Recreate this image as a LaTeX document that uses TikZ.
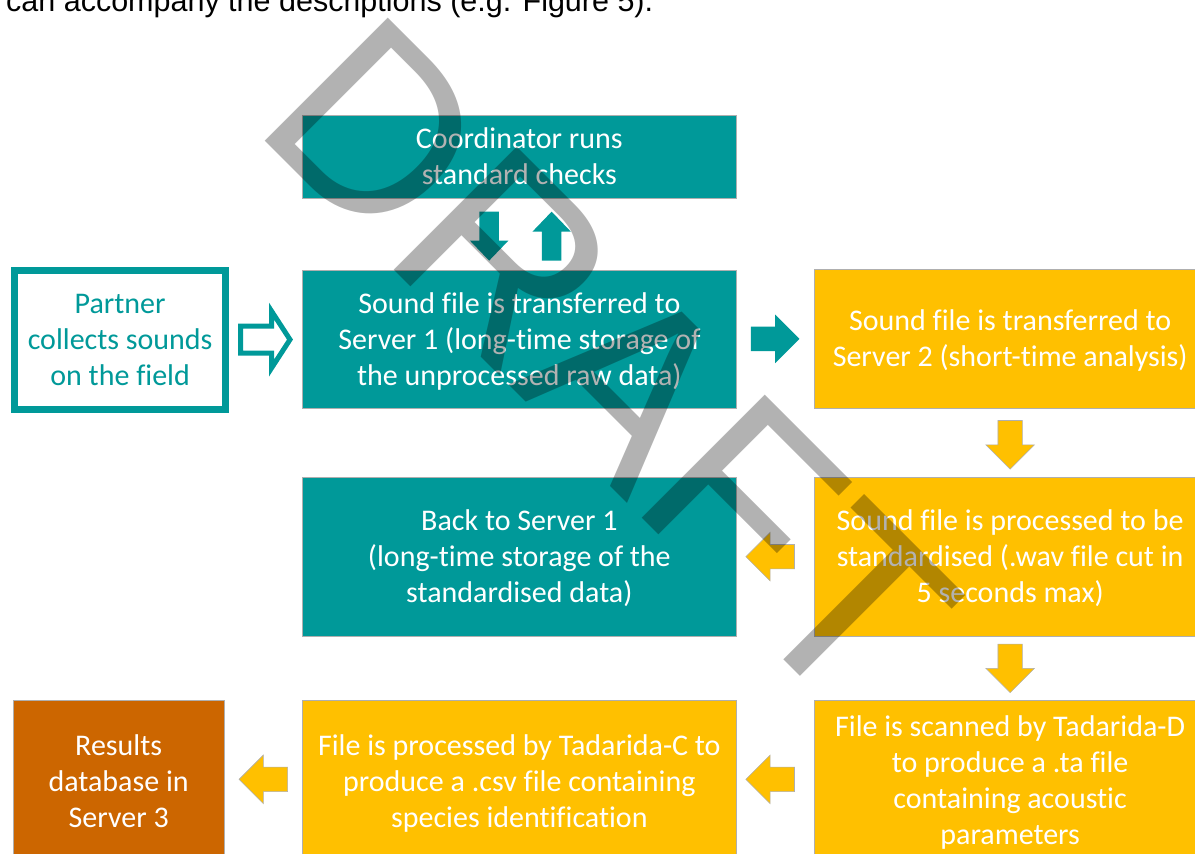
\documentclass[tikz,border=0pt]{standalone}
\usepackage{fontspec}
\setmainfont{Carlito}[Ligatures={TeX,NoCommon}]
\newfontfamily\capfont{Liberation Sans}
\usetikzlibrary{calc}

\definecolor{tealc}{RGB}{0,153,153}
\definecolor{amber}{RGB}{255,192,0}
\definecolor{rust}{RGB}{204,102,0}
\definecolor{edge}{RGB}{175,175,175}

\tikzset{
  box/.style={rectangle, inner sep=0pt, outer sep=0pt, draw=edge, line width=0.6pt},
  tealbox/.style={box, fill=tealc},
  amberbox/.style={box, fill=amber},
  rustbox/.style={box, fill=rust},
  % multi-line text, anchored on the baseline of its last line
  boxtext/.style={anchor=base, align=center, inner sep=0pt, text=white,
                  font=\fontsize{30}{36}\selectfont},
  % wide block arrow, pointing right, centred on its position
  bigarrow/.pic={\path[pic actions] (-24.3,-12.2) -- (0,-12.2) -- (0,-24.3) -- (24.3,0)
                 -- (0,24.3) -- (0,12.2) -- (-24.3,12.2) -- cycle;},
  % slender block arrow, pointing right
  slimarrow/.pic={\path[pic actions] (-24.5,-9.7) -- (4.5,-9.7) -- (4.5,-19.2) -- (24.5,0)
                 -- (4.5,19.2) -- (4.5,9.7) -- (-24.5,9.7) -- cycle;},
  % outlined block arrow, pointing right
  hollowarrow/.pic={\path[pic actions] (-25.5,-13.5) -- (5.5,-13.5) -- (5.5,-28.5) -- (24,0)
                 -- (5.5,28.5) -- (5.5,13.5) -- (-25.5,13.5) -- cycle;},
  tealarrow/.style={fill=tealc},
  amberarrow/.style={fill=amber, draw=edge, line width=0.6pt},
}

\begin{document}
\begin{tikzpicture}[x=1pt, y=-1pt]
\useasboundingbox (0,0) rectangle (1195,854);
\clip (0,0) rectangle (1195,854);

% caption line of the surrounding text
\node[anchor=base west, inner sep=0pt, font=\capfont\fontsize{30.5}{36}\selectfont] (captionline)
  at (6,11) {can accompany the descriptions (e.g. Figure 5).};

% boxes
\node[tealbox, minimum width=433.3pt, minimum height=82.6pt]  (coord)   at (519.35,157)    {};
\node[tealbox, minimum width=433.3pt, minimum height=138.3pt] (srv1)    at (519.35,339.15) {};
\node[rectangle, draw=tealc, fill=white, line width=7pt, inner sep=0pt,
      minimum width=211.3pt, minimum height=138.4pt]          (partner) at (120.15,340)    {};
\node[amberbox, minimum width=391.7pt, minimum height=139.3pt] (srv2)   at (1010.15,338.65) {};
\node[tealbox, minimum width=433.3pt, minimum height=158.7pt] (back)    at (519.35,556.65) {};
\node[amberbox, minimum width=391.7pt, minimum height=158.7pt] (proc)   at (1010.15,556.65) {};
\node[amberbox, minimum width=391.7pt, minimum height=161.3pt] (scan)   at (1010.15,781.35) {};
\node[amberbox, minimum width=433.3pt, minimum height=161.3pt] (filec)  at (519.35,781.35) {};
\node[rustbox, minimum width=210.7pt, minimum height=161.3pt]  (results) at (118.65,781.35) {};

% box texts
\node[boxtext] (coordT)   at (519.35,184.3) {Coordinator runs\\standard checks};
\node[boxtext] (srv1T)    at (519.35,385.3) {Sound file is transferred to\\Server 1 (long-time storage of\\the unprocessed raw data)};
\node[boxtext, text=tealc] (partnerT) at (120.15,385.3) {Partner\\collects sounds\\on the field};
\node[boxtext] (srv2T)    at (1010.15,366.7) {Sound file is transferred to\\Server 2 (short-time analysis)};
\node[boxtext] (backT)    at (519.35,602.7) {Back to Server 1\\(long-time storage of the\\standardised data)};
\node[boxtext] (procT)    at (1010.15,602.7) {Sound file is processed to be\\standardised (.wav file cut in\\5 seconds max)};
\node[boxtext] (scanT)    at (1010.15,844) {File is scanned by Tadarida-D\\to produce a .ta file\\containing acoustic\\parameters};
\node[boxtext] (filecT)   at (519.35,827.3) {File is processed by Tadarida-C to\\produce a .csv file containing\\species identification};
\node[boxtext] (resultsT) at (118.65,827.3) {Results\\database in\\Server 3};

% flow arrows
\pic[draw=tealc, fill=white, line width=5pt, line join=miter] (a0)
  at ($(partner.east)!0.5!(srv1.west)$) {hollowarrow};
\pic[tealarrow, rotate=-90] (a1) at ($(coord.south)!0.5!(srv1.north)+(-30.2,2)$) {slimarrow};
\pic[tealarrow, rotate=90]  (a2) at ($(coord.south)!0.5!(srv1.north)+(32.3,2)$) {slimarrow};
\pic[tealarrow] (a3) at ($(srv1.east)!0.5!(srv2.west)$) {bigarrow};
\pic[amberarrow, rotate=-90] (a4) at ($(srv2.south)!0.5!(proc.north)+(0,2)$) {bigarrow};
\pic[amberarrow, rotate=180] (a5) at ($(back.east)!0.5!(proc.west)+(-5,0)$) {bigarrow};
\pic[amberarrow, rotate=-90] (a6) at ($(proc.south)!0.5!(scan.north)$) {bigarrow};
\pic[amberarrow, rotate=180] (a7) at ($(filec.east)!0.5!(scan.west)+(-5,-2)$) {bigarrow};
\pic[amberarrow, rotate=180] (a8) at ($(results.east)!0.5!(filec.west)+(0,-2)$) {bigarrow};

% watermark over everything
\node[rotate=-45, anchor=base west, inner sep=0pt, text=black, text opacity=0.3,
      font=\capfont\fontsize{253}{253}\selectfont] (watermark) at (250,126) {DRAFT};
\end{tikzpicture}
\end{document}
